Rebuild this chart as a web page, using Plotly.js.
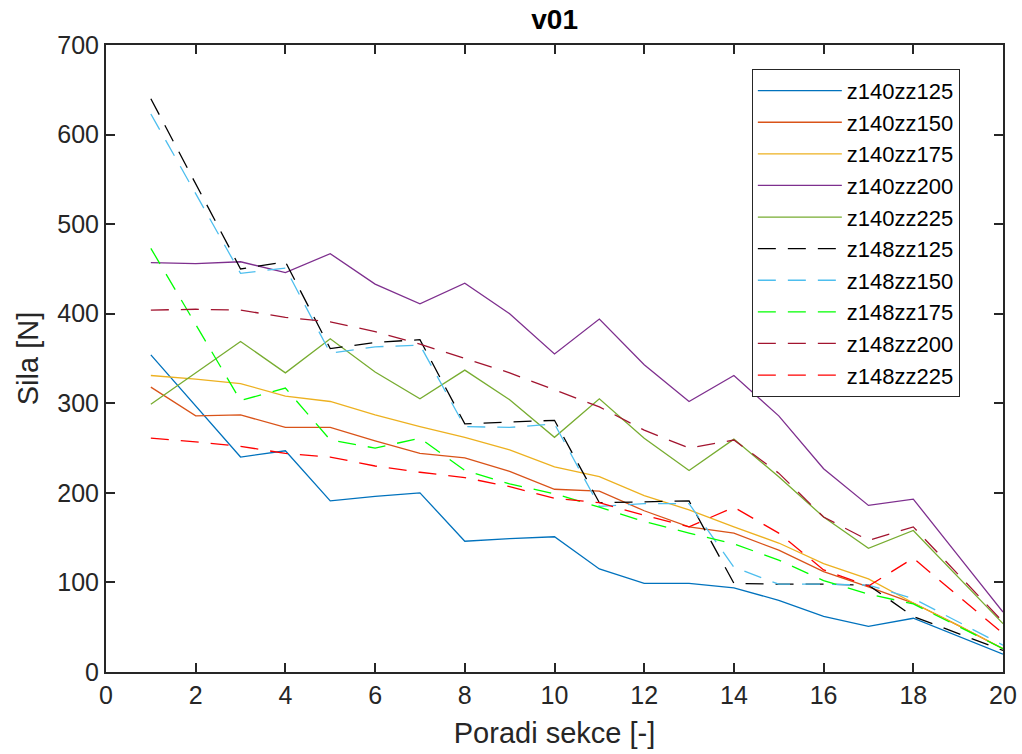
<!DOCTYPE html>
<html>
<head>
<meta charset="utf-8">
<script src="https://cdn.plot.ly/plotly-3.0.1.min.js"></script>
<style>html,body{margin:0;padding:0;background:#fff;}#chart{width:1022px;height:754px;}</style>
</head>
<body>
<div id="chart"></div>
<script>
const sections = [1,2,3,4,5,6,7,8,9,10,11,12,13,14,15,16,17,18,19,20];

const names = ["z140zz125","z140zz150","z140zz175","z140zz200","z140zz225",
               "z148zz125","z148zz150","z148zz175","z148zz200","z148zz225"];

const z140zz125 = [354,297,240,247,191,196,200,146,149,151,115,99,99,94,80,62,51,60,40,20];
const z140zz150 = [318,286,287,273,273,258,244,239,224,204,202,180,162,155,136,112,95,77,52,26];
const z140zz175 = [331,327,322,308,302,287,274,262,248,229,218,197,181,162,144,121,104,77,52,26];
const z140zz200 = [457,456,458,446,467,433,411,434,400,355,394,343,302,331,286,227,186,193,130,67];
const z140zz225 = [299,334,369,334,372,335,305,337,304,262,305,261,225,260,218,173,138,158,106,54];
const z148zz125 = [640,545,450,458,361,368,371,277,279,281,189,190,191,99,98,98,97,62,43,24];
const z148zz150 = [623,534,445,451,356,363,365,274,273,277,185,188,188,117,98,98,97,82,56,30];
const z148zz175 = [473,388,303,317,259,250,261,225,210,199,184,168,155,143,125,102,87,76,51,26];
const z148zz200 = [404,405,404,396,391,380,366,350,334,315,296,270,250,259,222,173,147,162,109,56];
const z148zz225 = [261,257,252,244,240,230,223,217,207,194,189,175,162,184,155,114,96,127,85,43];

const seriesValues = [z140zz125,z140zz150,z140zz175,z140zz200,z140zz225,
                      z148zz125,z148zz150,z148zz175,z148zz200,z148zz225];
const colors = ["#0072BD","#D95319","#EDB120","#7E2F8E","#77AC30",
                "#000000","#4DBEEE","#00FF00","#A2142F","#FF0000"];
const dashes = ["solid","solid","solid","solid","solid",
                "18px,12px","18px,12px","18px,12px","18px,12px","18px,12px"];

const xTicks = [0,2,4,6,8,10,12,14,16,18,20];
const yTicks = [0,100,200,300,400,500,600,700];

const traces = names.map((n,i)=>({
  x: sections, y: seriesValues[i], name: n, type: 'scatter', mode: 'lines',
  line: {color: colors[i], width: 1.3, dash: dashes[i]}
}));

const font = "Liberation Sans, Arial, sans-serif";
const axisCommon = {
  showgrid: false, zeroline: false, showline: true, mirror: 'ticks',
  linecolor: '#262626', linewidth: 2, ticks: 'inside', ticklen: 9, tickwidth: 2,
  tickcolor: '#262626', tickfont: {family: font, size: 25, color: '#262626'}
};

const layout = {
  width: 1022, height: 754,
  margin: {l: 106, r: 19, t: 45, b: 82},
  paper_bgcolor: '#fff', plot_bgcolor: '#fff',
  title: {text: '<b>v01</b>', font: {family: font, size: 28, color: '#000'},
          x: 0.5427, xanchor: 'center', y: 0.974, yanchor: 'middle'},
  xaxis: Object.assign({}, axisCommon, {
    range: [0,20], tickvals: xTicks, ticktext: xTicks.map(String),
    title: {text: 'Poradi sekce [-]', font: {family: font, size: 29, color: '#262626'}, standoff: 15}
  }),
  yaxis: Object.assign({}, axisCommon, {
    range: [0,700], tickvals: yTicks, ticktext: yTicks.map(String),
    title: {text: 'Sila [N]', font: {family: font, size: 29, color: '#262626'}, standoff: 10}
  }),
  showlegend: true,
  legend: {
    x: 0.720, y: 0.962, xanchor: 'left', yanchor: 'top',
    bgcolor: '#fff', bordercolor: '#262626', borderwidth: 1,
    font: {family: font, size: 22, color: '#000'},
    itemwidth: 84, tracegroupgap: 0
  }
};

Plotly.newPlot('chart', traces, layout, {staticPlot: true, displayModeBar: false});
</script>
</body>
</html>
